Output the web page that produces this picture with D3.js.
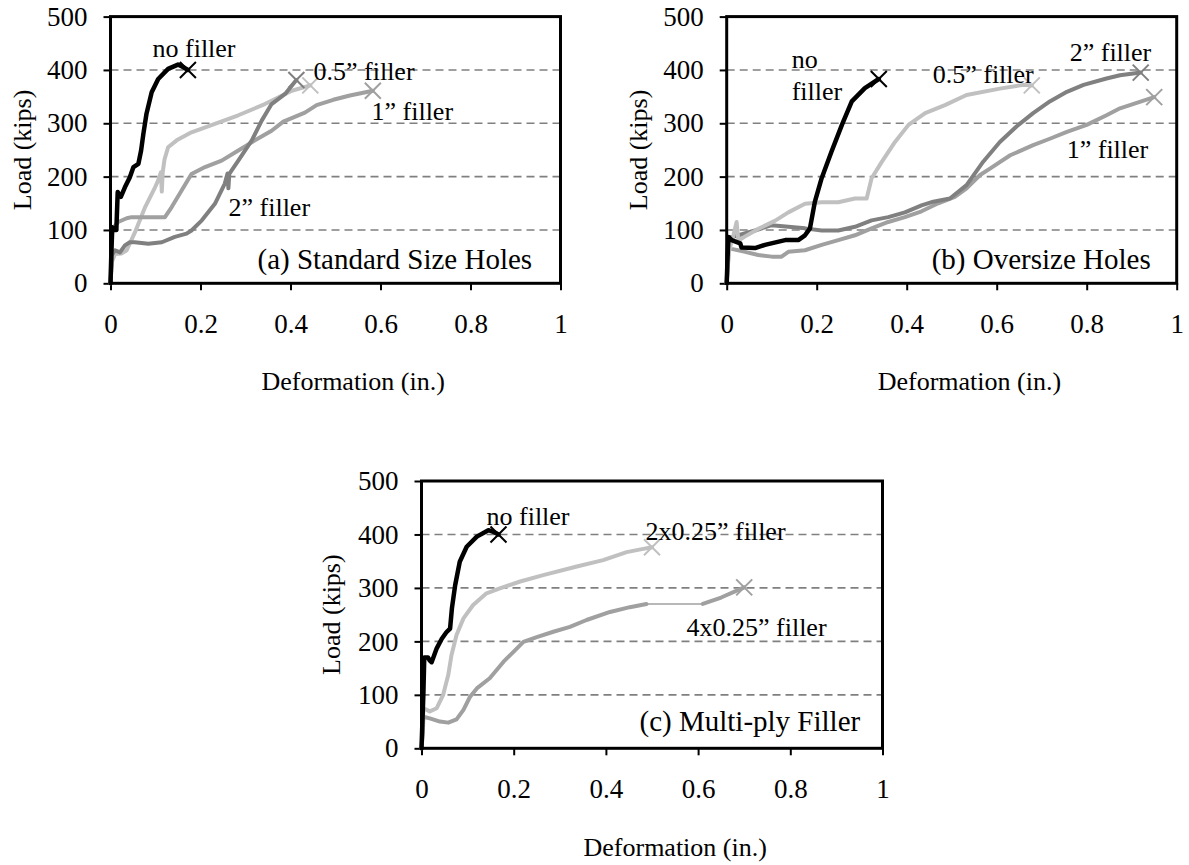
<!DOCTYPE html>
<html><head><meta charset="utf-8">
<script src="https://cdn.jsdelivr.net/npm/d3@7"></script>
<style>
body{margin:0;background:#fff;}
svg text{font-family:"Liberation Serif","Times New Roman",serif;font-size:26px;fill:#000;}
</style></head><body>
<svg id="chart" width="1189" height="865"></svg>
<script>
// ---------- tick values & texts ----------
const xTicks = [0, 0.2, 0.4, 0.6, 0.8, 1];
const xTickLabels = ["0", "0.2", "0.4", "0.6", "0.8", "1"];
const yTicks = [0, 100, 200, 300, 400, 500];
const yTickLabels = ["0", "100", "200", "300", "400", "500"];
const gridValues = [100, 200, 300, 400];
const xTitle = "Deformation (in.)";
const yTitle = "Load (kips)";

// ---------- panel (a) Standard Size Holes : [deformation in., load kips] ----------
const aNoFiller = [[0,0],[0.002,60],[0.004,105],[0.01,100],[0.013,100],[0.016,171],[0.023,162],[0.032,180],[0.043,199],[0.051,218],[0.062,224],[0.068,249],[0.073,280],[0.08,318],[0.0915,358],[0.106,383],[0.128,402],[0.15,410],[0.162,405],[0.172,400]];
const aHalfInch = [[0,0],[0.003,40],[0.01,55],[0.025,56],[0.036,62],[0.054,95],[0.077,143],[0.099,180],[0.106,193],[0.112,208],[0.114,172],[0.116,208],[0.12,232],[0.128,255],[0.147,268],[0.18,283],[0.232,299],[0.284,315],[0.343,336],[0.403,361],[0.444,371]];
const aOneInch = [[0,0],[0.002,50],[0.003,97],[0.01,108],[0.017,115],[0.036,122],[0.047,124],[0.077,124],[0.121,124],[0.136,143],[0.158,174],[0.18,205],[0.21,218],[0.247,230],[0.284,249],[0.321,268],[0.358,286],[0.384,303],[0.432,320],[0.458,334],[0.495,344],[0.532,352],[0.583,361]];
const aTwoInch = [[0,0],[0.002,30],[0.003,53],[0.01,62],[0.021,58],[0.032,71],[0.043,77],[0.054,77],[0.084,74],[0.114,77],[0.143,87],[0.169,93],[0.18,99],[0.203,118],[0.232,149],[0.254,187],[0.26,206],[0.262,178],[0.264,205],[0.284,230],[0.314,268],[0.336,305],[0.358,336],[0.388,355],[0.413,381]];

// ---------- panel (b) Oversize Holes ----------
const bNoFiller = [[0,0],[0.002,50],[0.004,87],[0.011,81],[0.03,75],[0.033,67],[0.063,66],[0.085,72],[0.13,81],[0.159,81],[0.174,90],[0.185,103],[0.196,153],[0.211,197],[0.233,247],[0.256,297],[0.278,341],[0.307,366],[0.338,383]];
const bHalfInch = [[0,0],[0.005,60],[0.015,90],[0.022,115],[0.026,80],[0.041,88],[0.07,102],[0.107,117],[0.137,133],[0.174,149],[0.211,152],[0.248,152],[0.285,159],[0.311,159],[0.322,197],[0.345,228],[0.374,265],[0.404,297],[0.441,319],[0.485,334],[0.533,353],[0.607,365],[0.659,372],[0.678,371]];
const bOneInch = [[0,0],[0.003,40],[0.006,75],[0.008,65],[0.041,59],[0.07,53],[0.1,50],[0.122,50],[0.137,59],[0.174,62],[0.211,72],[0.248,81],[0.285,90],[0.322,103],[0.359,115],[0.396,124],[0.433,135],[0.47,150],[0.507,162],[0.533,178],[0.563,203],[0.585,215],[0.63,240],[0.681,259],[0.718,271],[0.756,284],[0.8,297],[0.844,315],[0.874,328],[0.95,349]];
const bTwoInch = [[0,0],[0.002,50],[0.004,85],[0.026,90],[0.063,99],[0.1,109],[0.137,106],[0.174,103],[0.211,99],[0.248,99],[0.285,106],[0.322,118],[0.359,124],[0.396,133],[0.433,146],[0.459,153],[0.496,159],[0.533,184],[0.57,228],[0.607,265],[0.644,294],[0.681,319],[0.718,341],[0.756,359],[0.793,372],[0.844,384],[0.874,390],[0.92,395]];

// ---------- panel (c) Multi-ply Filler ----------
const cNoFiller = [[0,0],[0.002,50],[0.004,100],[0.006,170],[0.014,170],[0.018,164],[0.022,161],[0.033,187],[0.044,205],[0.054,217],[0.062,224],[0.066,262],[0.073,305],[0.083,349],[0.098,377],[0.12,396],[0.145,408],[0.156,405],[0.167,400]];
const cTwoPly = [[0,0],[0.003,40],[0.004,75],[0.018,69],[0.033,75],[0.047,100],[0.058,137],[0.065,174],[0.076,212],[0.091,243],[0.112,268],[0.141,290],[0.17,299],[0.214,312],[0.264,324],[0.337,340],[0.394,352],[0.445,367],[0.481,373],[0.5,376]];
const cFourPlyFirst = [[0,0],[0.003,30],[0.004,59],[0.018,56],[0.04,50],[0.058,48],[0.076,54],[0.091,72],[0.105,96],[0.12,112],[0.148,131],[0.178,162],[0.199,180],[0.221,199],[0.25,208],[0.286,218],[0.322,227],[0.358,240],[0.409,255],[0.452,264],[0.488,270]];
const cFourPlySecond = [[0.61,270],[0.65,282],[0.70,301]];

// ---------- layout & styles ----------
const COLORS = {black:"#000000", light:"#c0c0c0", mid:"#a0a0a0", dark:"#808080"};
const panels = [
  { left:110.5, top:16.6, width:450, height:266.7, title:"(a) Standard Size Holes", titlePos:[147,252],
    xTitlePos:[151,107], yTitleX:-89,
    series:[
      {data:aHalfInch, color:COLORS.light, w:4},
      {data:aOneInch, color:COLORS.mid, w:4},
      {data:aTwoInch, color:COLORS.dark, w:4},
      {data:aNoFiller, color:COLORS.black, w:4.5}],
    labels:[["no filler",42,40],["0.5\u201D filler",203,63],["1\u201D filler",261,103],["2\u201D filler",118,199]] },
  { left:726.7, top:16.6, width:450, height:266.7, title:"(b) Oversize Holes", titlePos:[205,252],
    xTitlePos:[151,107], yTitleX:-89,
    series:[
      {data:bOneInch, color:COLORS.mid, w:4},
      {data:bTwoInch, color:COLORS.dark, w:4},
      {data:bHalfInch, color:COLORS.light, w:4},
      {data:bNoFiller, color:COLORS.black, w:4.5}],
    labels:[["no",65,51],["filler",65,83],["0.5\u201D filler",206,66],["2\u201D filler",343,44],["1\u201D filler",340,141]] },
  { left:421.5, top:481, width:461, height:267.3, title:"(c) Multi-ply Filler", titlePos:[218,250],
    xTitlePos:[162,108], yTitleX:-91,
    series:[
      {data:cTwoPly, color:COLORS.light, w:4},
      {data:cFourPlyFirst, color:COLORS.mid, w:4, bridgeTo:cFourPlySecond},
      {data:cFourPlySecond, color:COLORS.mid, w:4},
      {data:cNoFiller, color:COLORS.black, w:4.5}],
    labels:[["no filler",65,44],["2x0.25\u201D filler",224,59],["4x0.25\u201D filler",265,155]] }
];
// which series get an end "x" marker
const endMarked = new Set([aNoFiller,aHalfInch,aOneInch,aTwoInch,bNoFiller,bHalfInch,bOneInch,bTwoInch,cNoFiller,cTwoPly,cFourPlySecond]);

const svg = d3.select("#chart");

panels.forEach(p => {
  const x = d3.scaleLinear().domain([0,1]).range([p.left, p.left + p.width]);
  const y = d3.scaleLinear().domain([0,500]).range([p.top + p.height, p.top]);
  const g = svg.append("g");

  // gridlines
  g.selectAll("line.grid").data(gridValues).join("line")
    .attr("x1", x(0)).attr("x2", x(1))
    .attr("y1", d => y(d)).attr("y2", d => y(d))
    .attr("stroke", "#808080").attr("stroke-width", 1.6).attr("stroke-dasharray", "8,5");

  // axes
  const ya = d3.axisLeft(y).tickValues(yTicks).tickFormat((d,i) => yTickLabels[i]).tickSize(7).tickPadding(16);
  const yg = g.append("g").attr("transform", `translate(${x(0)},0)`).call(ya);
  const xa = d3.axisBottom(x).tickValues(xTicks).tickFormat((d,i) => xTickLabels[i]).tickSize(7).tickPadding(24);
  const xg = g.append("g").attr("transform", `translate(0,${y(0)})`).call(xa);
  [yg, xg].forEach(a => {
    a.select(".domain").remove();
    a.selectAll(".tick line").attr("stroke", "#000").attr("stroke-width", 2);
    a.selectAll(".tick text").attr("fill", "#000").style("font-size", "27px")
      .style("font-family", "'Liberation Serif','Times New Roman',serif");
  });

  // series
  const line = d3.line().x(d => x(d[0])).y(d => y(d[1]));
  p.series.forEach(s => {
    if (s.bridgeTo) {
      const a = s.data[s.data.length - 1], b = s.bridgeTo[0];
      g.append("line").attr("x1", x(a[0])).attr("y1", y(a[1])).attr("x2", x(b[0])).attr("y2", y(b[1]))
        .attr("stroke", s.color).attr("stroke-width", 1.6);
    }
    g.append("path").datum(s.data).attr("d", line).attr("fill", "none")
      .attr("stroke", s.color).attr("stroke-width", s.w)
      .attr("stroke-linejoin", "round").attr("stroke-linecap", "round");
    if (endMarked.has(s.data)) {
      const e = s.data[s.data.length - 1];
      const cx = x(e[0]), cy = y(e[1]), r = 8;
      g.append("path").attr("d", `M${cx-r},${cy-r}L${cx+r},${cy+r}M${cx-r},${cy+r}L${cx+r},${cy-r}`)
        .attr("stroke", s.color).attr("stroke-width", 2).attr("fill", "none");
    }
  });

  // frame
  g.append("rect").attr("x", x(0)).attr("y", y(500)).attr("width", x(1) - x(0)).attr("height", y(0) - y(500))
    .attr("fill", "none").attr("stroke", "#000").attr("stroke-width", 3);

  // series labels
  g.selectAll("text.lab").data(p.labels).join("text").attr("class", "lab")
    .attr("x", d => p.left + d[1]).attr("y", d => p.top + d[2]).text(d => d[0]);
  // panel title
  g.append("text").attr("x", p.left + p.titlePos[0]).attr("y", p.top + p.titlePos[1])
    .style("font-size", "29px").text(p.title);
  // axis titles
  g.append("text").attr("x", p.left + p.xTitlePos[0]).attr("y", p.top + p.height + p.xTitlePos[1]).text(xTitle);
  g.append("text").attr("text-anchor", "middle")
    .attr("transform", `translate(${p.left + p.yTitleX},${p.top + p.height / 2}) rotate(-90)`)
    .attr("dy", "0.35em").text(yTitle);
});
</script>
</body></html>
